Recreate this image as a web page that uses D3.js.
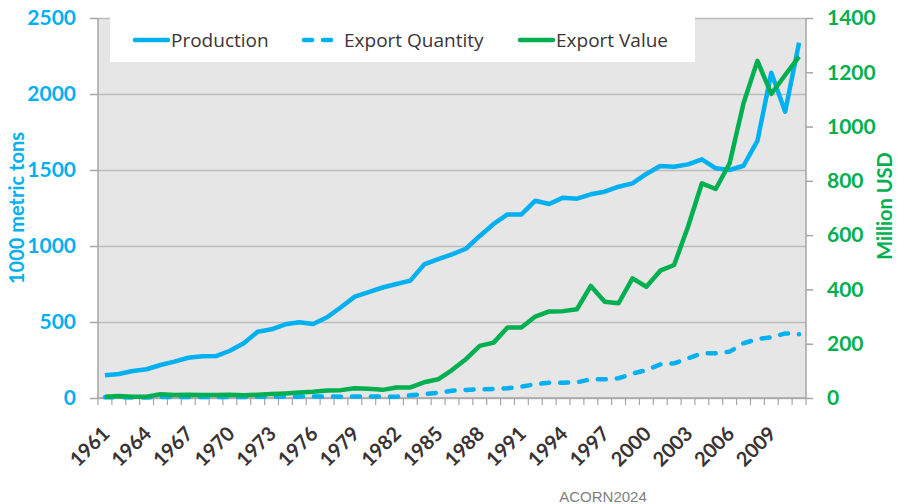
<!DOCTYPE html>
<html>
<head>
<meta charset="utf-8">
<script src="https://cdn.jsdelivr.net/npm/d3@7"></script>
<style>
body { margin: 0; background: #fff; }
svg text { font-family: Lato, "Open Sans", sans-serif; }
</style>
</head>
<body>
<div id="chart"></div>
<script>
// categories
var years = [1961, 1962, 1963, 1964, 1965, 1966, 1967, 1968, 1969, 1970,
    1971, 1972, 1973, 1974, 1975, 1976, 1977, 1978, 1979, 1980,
    1981, 1982, 1983, 1984, 1985, 1986, 1987, 1988, 1989, 1990,
    1991, 1992, 1993, 1994, 1995, 1996, 1997, 1998, 1999, 2000,
    2001, 2002, 2003, 2004, 2005, 2006, 2007, 2008, 2009, 2010, 2011];

// 1000 metric tons (left axis)
var production = [150, 158, 178, 189, 217, 239, 265, 274, 276, 311,
    360, 436, 452, 485, 498, 487, 531, 597, 667, 697,
    727, 750, 772, 879, 914, 945, 982, 1066, 1145, 1208,
    1208, 1298, 1276, 1318, 1311, 1340, 1357, 1390, 1412, 1474,
    1526, 1522, 1537, 1570, 1511, 1500, 1528, 1691, 2140, 1884, 2337];

var exportQuantity = [5, 5, 4, 4, 6, 6, 7, 7, 6, 6,
    7, 8, 8, 9, 9, 10, 10, 9, 10, 10,
    9, 9, 18, 26, 35, 48, 53, 57, 59, 64,
    75, 90, 101, 101, 103, 123, 123, 130, 160, 184,
    221, 228, 261, 294, 294, 305, 360, 388, 399, 425, 419];

// million USD (right axis)
var exportValue = [5, 7, 5, 5, 14, 11, 12, 11, 11, 12,
    10, 12, 15, 17, 20, 23, 28, 29, 36, 34,
    30, 39, 39, 58, 69, 103, 143, 192, 204, 260,
    260, 300, 319, 320, 327, 413, 355, 349, 441, 410,
    469, 490, 631, 791, 770, 865, 1086, 1242, 1120, 1190, 1258];

var leftTicks = [0, 500, 1000, 1500, 2000, 2500];
var rightTicks = [0, 200, 400, 600, 800, 1000, 1200, 1400];
var labelYears = [1961, 1964, 1967, 1970, 1973, 1976, 1979, 1982, 1985,
    1988, 1991, 1994, 1997, 2000, 2003, 2006, 2009];

var blue = "#00b0f0",
    green = "#00b050",
    axisGrey = "#a6a6a6";

var width = 897, height = 504;
var margin = {top: 18, left: 98};
var plotW = 806 - 98, plotH = 398 - 18;

var svg = d3.select("#chart").append("svg")
    .attr("width", width)
    .attr("height", height);

var g = svg.append("g")
    .attr("transform", "translate(" + margin.left + "," + margin.top + ")");

var x = d3.scaleBand().domain(years).range([0, plotW]);
var yLeft = d3.scaleLinear().domain([0, 2500]).range([plotH, 0]);
var yRight = d3.scaleLinear().domain([0, 1400]).range([plotH, 0]);

function cx(year) { return x(year) + x.bandwidth() / 2; }

// plot background
g.append("rect")
    .attr("width", plotW)
    .attr("height", plotH)
    .attr("fill", "#e6e6e6");

// gridlines
g.append("g")
    .call(d3.axisLeft(yLeft).tickValues(leftTicks).tickSize(-plotW).tickFormat(""))
    .call(function(s) {
        s.select(".domain").remove();
        s.selectAll("line").attr("stroke", "#bcbcbc").attr("stroke-width", 1.5);
    });

// legend box
var legend = g.append("g");
legend.append("rect")
    .attr("x", 12)
    .attr("y", -1)
    .attr("width", 585)
    .attr("height", 45)
    .attr("fill", "#fff");

var legendItems = [
    {name: "Production", color: blue, dash: null, x: 35},
    {name: "Export Quantity", color: blue, dash: "8,11", x: 204},
    {name: "Export Value", color: green, dash: null, x: 420}
];

legendItems.forEach(function(d) {
    legend.append("line")
        .attr("x1", d.x + 2)
        .attr("x2", d.x + 35)
        .attr("y1", 22)
        .attr("y2", 22)
        .attr("stroke", d.color)
        .attr("stroke-width", 4.5)
        .attr("stroke-linecap", "round")
        .attr("stroke-dasharray", d.dash);
    legend.append("text")
        .attr("x", d.x + (d.dash ? 42 : 38))
        .attr("y", 22)
        .attr("dy", "0.35em")
        .attr("fill", "#3b3535")
        .style("font-family", "'Open Sans', sans-serif")
        .style("font-size", "19px")
        .text(d.name);
});

// left axis
g.append("g")
    .call(d3.axisLeft(yLeft).tickValues(leftTicks).tickFormat(d3.format("d")).tickSize(8).tickPadding(14))
    .call(function(s) {
        s.select(".domain").attr("stroke", axisGrey).attr("stroke-width", 1.5)
            .attr("d", "M0," + plotH + "V0");
        s.selectAll("line").attr("stroke", axisGrey).attr("stroke-width", 1.5);
        s.selectAll("text").attr("fill", blue)
            .style("font-size", "21px").style("font-weight", "bold");
    });

// right axis
g.append("g")
    .attr("transform", "translate(" + plotW + ",0)")
    .call(d3.axisRight(yRight).tickValues(rightTicks).tickFormat(d3.format("d")).tickSize(7).tickPadding(14))
    .call(function(s) {
        s.select(".domain").attr("stroke", axisGrey).attr("stroke-width", 1.5)
            .attr("d", "M0," + plotH + "V0");
        s.selectAll("line").attr("stroke", axisGrey).attr("stroke-width", 1.5);
        s.selectAll("text").attr("fill", green)
            .style("font-size", "21px").style("font-weight", "bold");
    });

// bottom axis: tick marks between categories, rotated labels every 3 years
var bottom = g.append("g").attr("transform", "translate(0," + plotH + ")");

bottom.append("line")
    .attr("x1", 0)
    .attr("x2", plotW)
    .attr("stroke", axisGrey)
    .attr("stroke-width", 1.5);

bottom.selectAll(".tick-mark")
    .data(years.concat(["end"])).enter()
    .append("line")
    .attr("class", "tick-mark")
    .attr("x1", function(d) { return d === "end" ? plotW : x(d); })
    .attr("x2", function(d) { return d === "end" ? plotW : x(d); })
    .attr("y1", 0)
    .attr("y2", 7)
    .attr("stroke", axisGrey)
    .attr("stroke-width", 1.2);

bottom.selectAll(".year-label")
    .data(labelYears).enter()
    .append("text")
    .attr("class", "year-label")
    .attr("transform", function(d) { return "translate(" + (cx(d) + 6) + ",37) rotate(-45)"; })
    .attr("text-anchor", "end")
    .attr("fill", "#3a3333")
    .style("font-size", "20px")
    .style("font-weight", "bold")
    .text(function(d) { return d; });

// lines
var lineLeft = d3.line()
    .curve(d3.curveLinear)
    .x(function(d, i) { return cx(years[i]); })
    .y(function(d) { return yLeft(d); });

var lineRight = d3.line()
    .curve(d3.curveLinear)
    .x(function(d, i) { return cx(years[i]); })
    .y(function(d) { return yRight(d); });

g.append("path")
    .attr("d", lineLeft(production))
    .attr("fill", "none")
    .attr("stroke", blue)
    .attr("stroke-width", 4.5)
    .attr("stroke-linejoin", "round");

g.append("path")
    .attr("d", lineLeft(exportQuantity))
    .attr("fill", "none")
    .attr("stroke", blue)
    .attr("stroke-width", 4.5)
    .attr("stroke-linecap", "round")
    .attr("stroke-dasharray", "8,11");

g.append("path")
    .attr("d", lineRight(exportValue))
    .attr("fill", "none")
    .attr("stroke", green)
    .attr("stroke-width", 4.5)
    .attr("stroke-linejoin", "round");

// axis titles
svg.append("text")
    .attr("transform", "translate(17,208) rotate(-90)")
    .attr("text-anchor", "middle")
    .attr("dy", "0.35em")
    .attr("fill", blue)
    .style("font-size", "20px")
    .style("font-weight", "bold")
    .text("1000 metric tons");

svg.append("text")
    .attr("transform", "translate(885,206) rotate(-90)")
    .attr("text-anchor", "middle")
    .attr("dy", "0.35em")
    .attr("fill", green)
    .style("font-size", "20px")
    .style("font-weight", "bold")
    .text("Million USD");

// watermark
svg.append("text")
    .attr("x", 603)
    .attr("y", 502)
    .attr("text-anchor", "middle")
    .attr("fill", "#808080")
    .style("font-family", "'Liberation Sans', Arial, sans-serif")
    .style("font-size", "15px")
    .text("ACORN2024");
</script>
</body>
</html>
